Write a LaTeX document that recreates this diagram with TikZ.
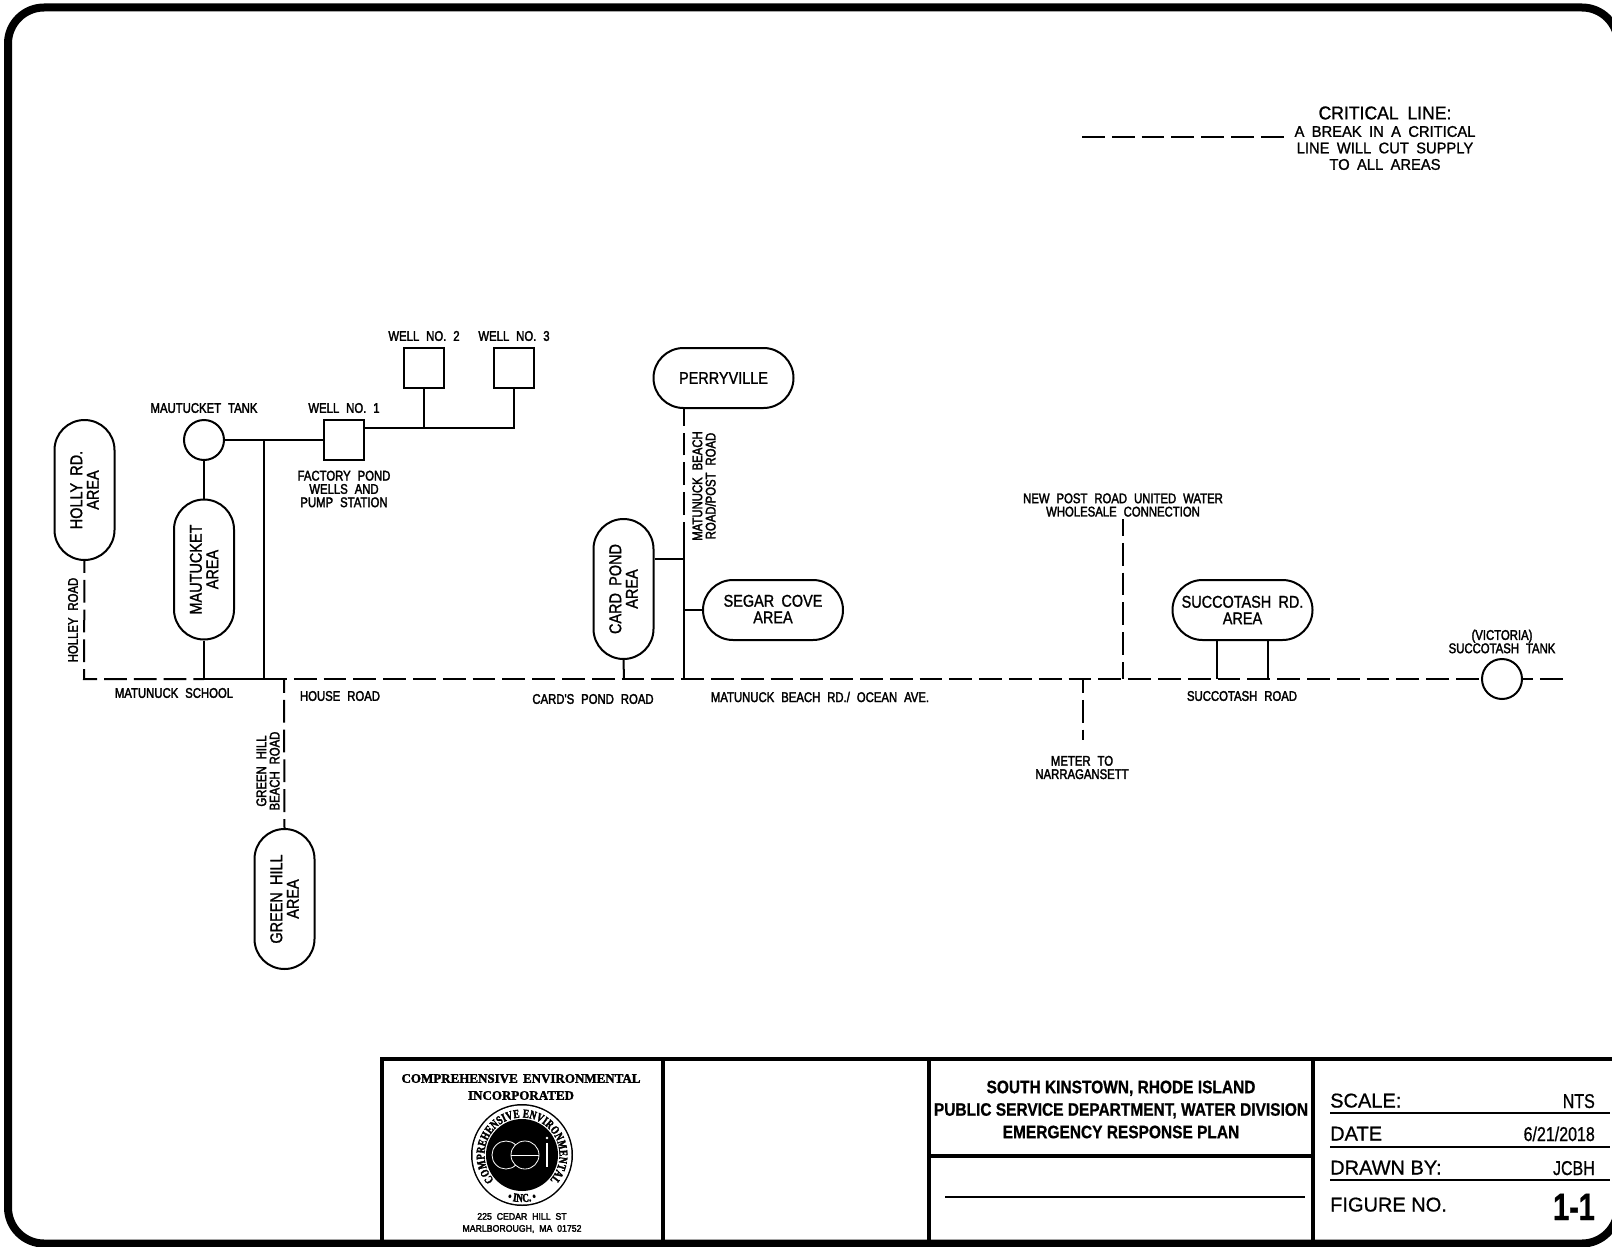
\documentclass[tikz,border=0pt]{standalone}
\usepackage{fontspec}
\usetikzlibrary{shapes.misc,decorations.text,calc}
\setmainfont{Liberation Sans}
\newfontfamily\cadsm[FakeStretch=0.81,FakeBold=2.2,WordSpace=2.2]{Liberation Sans}
\newfontfamily\cadlg[FakeStretch=0.85,FakeBold=1.2,WordSpace=1.8]{Liberation Sans}
\newfontfamily\cadcl[FakeStretch=0.95,FakeBold=1.2,WordSpace=1.8]{Liberation Sans}
\newfontfamily\cadad[FakeStretch=0.92,FakeBold=2.5,WordSpace=2.0]{Liberation Sans}
\newfontfamily\ttlb[FakeStretch=0.86,FakeBold=0.8]{Liberation Sans Bold}
\newfontfamily\ttlbig[FakeStretch=0.76,FakeBold=1.0]{Liberation Sans Bold}
\newfontfamily\ttlr[FakeBold=0.8]{Liberation Sans}
\newfontfamily\ttln[FakeStretch=0.8,FakeBold=0.8]{Liberation Sans}
\newfontfamily\logof[FakeBold=2.0,WordSpace=1.6]{Liberation Serif Bold}
\newfontfamily\logor[FakeStretch=0.76,FakeBold=2.5]{Liberation Serif Bold}
\newcommand{\smf}{\cadsm\fontsize{14}{13.3}\selectfont}
\newcommand{\lgf}{\cadlg\fontsize{17}{16.5}\selectfont}
\tikzset{
  pipe/.style={line width=2pt,line cap=butt},
  crit/.style={line width=2pt,dash pattern=on 22.8pt off 7pt},
  capsule/.style={draw,line width=2pt,rounded rectangle,minimum width=140pt,minimum height=60pt,inner sep=0pt,align=center,font=\lgf,fill=white},
  wellbox/.style={draw,line width=2pt,rectangle,minimum size=40pt,inner sep=0pt},
  tankc/.style={draw,line width=2pt,circle,minimum size=40pt,inner sep=0pt,fill=white},
  lab/.style={inner sep=0pt,align=center,font=\smf},
  frameln/.style={line width=4.2pt},
  thinln/.style={line width=2.2pt},
  lbl/.style={inner sep=0pt,anchor=base west,font=\ttlr\fontsize{20}{20}\selectfont},
  val/.style={inner sep=0pt,anchor=base east,font=\ttln\fontsize{20}{20}\selectfont}
}
\begin{document}
\begin{tikzpicture}[x=1pt,y=-1pt]
\useasboundingbox (0,0) rectangle (1612,1247);
\clip (0,0) rectangle (1612,1247);
\fill[white] (0,0) rectangle (1612,1247);
\draw[line width=8pt,rounded corners=36pt] (8,7.5) rectangle (1618,1243.5);

% nodes
\node[capsule,rotate=90] (holly) at (84.5,490) {HOLLY RD.\\AREA};
\node[capsule,rotate=90] (maut) at (204,569.5) {MAUTUCKET\\AREA};
\node[capsule,rotate=90] (card) at (623.5,589) {CARD POND\\AREA};
\node[capsule,rotate=90] (green) at (284.5,899) {GREEN HILL\\AREA};
\node[capsule] (perry) at (723.5,378) {PERRYVILLE};
\node[capsule] (segar) at (773,610) {\raisebox{2pt}{SEGAR COVE}\\\raisebox{2pt}{AREA}};
\node[capsule] (succ) at (1242.5,610) {\raisebox{-2.5pt}{SUCCOTASH RD.}\\\raisebox{-2.5pt}{AREA}};
\node[tankc] (mtank) at (204,440) {};
\node[tankc] (stank) at (1502,679) {};
\node[wellbox] (w1) at (344,440) {};
\node[wellbox] (w2) at (424,367.5) {};
\node[wellbox] (w3) at (514,367.5) {};

% coordinates
\coordinate (corner) at (84,679);
\coordinate (mj) at (204,679);
\coordinate (hj) at (264,679);
\coordinate (hj2) at (264,440);
\coordinate (endr) at (1564,679);
\coordinate (wj) at (514,428);
\coordinate (gj) at (284,679);
\coordinate (pj) at (684,679);
\coordinate (pt) at (684,408);
\coordinate (ps) at (684,522);
\coordinate (pd) at (684,515);
\coordinate (cj) at (684,559);
\coordinate (sj) at (684,610);
\coordinate (cm) at (624,679);
\coordinate (npt) at (1123,519);
\coordinate (npb) at (1123,679);
\coordinate (mtt) at (1083,679);
\coordinate (mtb) at (1083,740);
\coordinate (s1) at (1217,679);
\coordinate (s2) at (1268,679);
\coordinate (legA) at (1082,137);
\coordinate (legB) at (1285,137);

% connectors
\draw[crit,dash phase=11pt] (holly.west) -- (corner) -- (mj);
\draw[pipe] (mj) -- (hj);
\draw[crit] (hj) -- (stank.west);
\draw[crit,dash phase=13pt] (stank.east) -- (endr);
\draw[pipe] (mtank.south) -- (maut.east);
\draw[pipe] (maut.west) -- (mj);
\draw[pipe] (mtank.east) -- (w1.west);
\draw[pipe] (hj2) -- (hj);
\draw[pipe] (w1.east |- wj) -- (wj) -- (w3.south);
\draw[pipe] (w2.south) -- (w2.south |- wj);
\draw[crit,dash phase=9pt] (gj) -- (green.east);
\draw[pipe] (card.west) -- (cm);
\draw[pipe] (ps) -- (pj);
\draw[crit] (pd) -- (pt);
\draw[pipe] (cj -| card.south) -- (cj);
\draw[pipe] (sj) -- (segar.west);
\draw[crit,dash phase=6pt] (npt) -- (npb);
\draw[crit,dash phase=9pt] (mtt) -- (mtb);
\draw[pipe] (s1 |- succ.south) -- (s1);
\draw[pipe] (s2 |- succ.south) -- (s2);
\draw[crit] (legA) -- (legB);

% labels
\node[lab] (tw2) at (424,336) {WELL NO. 2};
\node[lab] (tw3) at (514,336) {WELL NO. 3};
\node[lab] (tmt) at (204,408) {MAUTUCKET TANK};
\node[lab] (tw1) at (344,408) {WELL NO. 1};
\node[lab] (tfp) at (344,489) {FACTORY POND\\WELLS AND\\PUMP STATION};
\node[lab] (tms) at (174,693) {MATUNUCK SCHOOL};
\node[lab] (thr) at (340,696) {HOUSE ROAD};
\node[lab,rotate=90] (thl) at (73,620) {HOLLEY ROAD};
\node[lab] (tcp) at (593,699) {CARD'S POND ROAD};
\node[lab] (tmb) at (820,697) {MATUNUCK BEACH RD./ OCEAN AVE.};
\node[lab,rotate=90] (tmp) at (704,486) {MATUNUCK BEACH\\ROAD/POST ROAD};
\node[lab] (tnp) at (1123,505) {NEW POST ROAD UNITED WATER\\WHOLESALE CONNECTION};
\node[lab] (tsr) at (1242,696) {SUCCOTASH ROAD};
\node[lab] (tvt) at (1502,641.5) {(VICTORIA)\\SUCCOTASH TANK};
\node[lab] (tmn) at (1082,767.5) {METER TO\\NARRAGANSETT};
\node[lab,rotate=90] (tgh) at (268,771) {GREEN HILL\\BEACH ROAD};
\node[inner sep=0pt,font=\cadcl\fontsize{18.5}{18.5}\selectfont] (tcl) at (1385,113) {CRITICAL LINE:};
\node[inner sep=0pt,align=center,font=\cadcl\fontsize{15.5}{16.5}\selectfont] (tcb) at (1385,148) {A BREAK IN A CRITICAL\\LINE WILL CUT SUPPLY\\TO ALL AREAS};

% title block
\coordinate (tl) at (382,1059);
\coordinate (tr) at (1612,1059);
\coordinate (v1) at (663,1059);
\coordinate (v2) at (929,1059);
\coordinate (v3) at (1313,1059);
\coordinate (bl) at (382,1243);
\draw[frameln] (bl) -- (tl) -- (tr);
\draw[frameln] (v1) -- (v1 |- bl);
\draw[frameln] (v2) -- (v2 |- bl);
\draw[frameln] (v3) -- (v3 |- bl);
\draw[frameln] (929,1156) -- (1313,1156);
\draw[thinln] (945,1197) -- (1305,1197);
\draw[thinln] (1330,1113) -- (1610,1113);
\draw[thinln] (1330,1147) -- (1610,1147);
\draw[thinln] (1330,1180) -- (1610,1180);

\node[inner sep=0pt,align=center,font=\ttlb\fontsize{18}{22.5}\selectfont] (ttl) at (1121,1109.5) {SOUTH KINSTOWN, RHODE ISLAND\\PUBLIC SERVICE DEPARTMENT, WATER DIVISION\\EMERGENCY RESPONSE PLAN};

\node[lbl] (l1) at (1330,1107.5) {SCALE:};
\node[lbl] (l2) at (1330,1140.5) {DATE};
\node[lbl] (l3) at (1330,1174.5) {DRAWN BY:};
\node[lbl] (l4) at (1330,1211.5) {FIGURE NO.};
\node[val] (r1) at (1595,1108) {NTS};
\node[val] (r2) at (1595,1141) {6/21/2018};
\node[val] (r3) at (1595,1175) {JCBH};
\node[inner sep=0pt,anchor=base east,font=\ttlbig\fontsize{38}{38}\selectfont] (r4) at (1595,1220) {1-1};

% logo
\node[inner sep=0pt,align=center,font=\logof\fontsize{13}{17}\selectfont] (lgt) at (521,1087) {COMPREHENSIVE ENVIRONMENTAL\\INCORPORATED};
\node[inner sep=0pt,align=center,font=\cadad\fontsize{9.5}{12}\selectfont] (lga) at (522,1223) {225 CEDAR HILL ST\\MARLBOROUGH, MA 01752};
\begin{scope}[shift={(522,1155)},y=1pt]
\fill[black] (0,0) circle (51);
\fill[white] (0,0) circle (49.5);
\fill[black] (0,0) circle (36);
\path[decorate,decoration={text along path,text align={fit to path},text={|\logor\fontsize{12}{12}\selectfont|COMPREHENSIVE ENVIRONMENTAL}}]
  (222:37.5) arc (222:-42:37.5);
\path[decorate,decoration={text along path,text align=center,text={|\logor\fontsize{12}{12}\selectfont|• INC. •}}]
  (238:47) arc (238:302:47);
\draw[white,line width=0.8pt] (-16,0)++(45:14) arc (45:315:14);
\draw[white,line width=0.8pt] (3,0) circle (14);
\draw[white,line width=0.8pt] (-11,0) -- (17,0);
\fill[white] (24,-12) rectangle (26,12);
\fill[white] (25,17) circle (1.3);
\end{scope}
\end{tikzpicture}
\end{document}
